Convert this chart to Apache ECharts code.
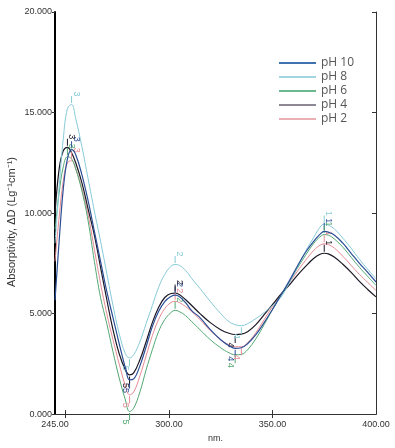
<!DOCTYPE html>
<html>
<head>
<meta charset="utf-8">
<script src="https://cdn.jsdelivr.net/npm/echarts@6/dist/echarts.min.js"></script>
<style>
html,body{margin:0;padding:0;background:#fff;}
#chart{width:395px;height:448px;}
</style>
</head>
<body>
<div id="chart"></div>
<script>
// wavelengths (nm)
const wavelengths = [245,247,249,251,253,255,258,261,264,267,270,273,276,279,281,283,286,289,292,295,298,301,303,305,308,311,315,320,325,329,332,335,338,342,346,350,354,358,362,366,370,373,375,377,380,384,388,392,396,400];

const pH10 = [5.66,8.6,11.2,12.7,13.15,12.9,11.9,10.6,9.1,7.6,6.1,4.8,3.5,2.3,1.7,1.75,2.4,3.35,4.35,5.1,5.6,5.85,5.92,5.85,5.55,5.15,4.8,4.2,3.7,3.4,3.27,3.3,3.5,3.95,4.55,5.2,5.9,6.6,7.35,8.05,8.6,8.95,9.09,9.05,8.9,8.5,8.0,7.5,7.05,6.57];
const pH8 = [8.5,11.3,13.7,15.2,15.4,14.7,13.3,11.7,10.1,8.6,7.0,5.4,4.0,3.0,2.8,2.95,3.6,4.5,5.4,6.3,6.95,7.35,7.44,7.4,7.15,6.75,6.25,5.6,5.0,4.6,4.45,4.4,4.5,4.75,5.05,5.4,5.8,6.5,7.3,8.1,8.8,9.3,9.45,9.4,9.2,8.75,8.25,7.7,7.2,6.73];
const pH6 = [9.2,11.0,12.3,12.8,12.7,12.2,11.1,9.6,7.6,5.8,4.5,3.1,1.8,0.7,0.13,0.3,1.1,2.2,3.2,4.1,4.7,5.05,5.16,5.1,4.9,4.6,4.2,3.7,3.3,3.05,2.95,2.97,3.2,3.75,4.45,5.2,5.9,6.55,7.25,7.9,8.5,8.82,8.93,8.9,8.7,8.3,7.8,7.3,6.85,6.4];
const pH4 = [9.95,12.2,13.1,13.27,13.0,12.5,11.5,10.2,8.9,7.3,5.7,4.2,3.0,2.2,1.95,2.05,2.7,3.6,4.55,5.3,5.8,6.0,6.02,5.95,5.7,5.4,5.0,4.55,4.2,4.02,3.96,3.98,4.1,4.45,4.95,5.45,5.95,6.4,6.9,7.35,7.75,7.95,8.0,7.97,7.8,7.45,7.05,6.6,6.2,5.83];
const pH2 = [7.6,9.8,11.6,12.5,12.6,12.2,11.2,9.9,8.2,6.5,5.0,3.7,2.5,1.4,0.96,1.1,1.9,2.9,3.9,4.7,5.25,5.55,5.61,5.55,5.35,5.1,4.7,4.15,3.7,3.45,3.35,3.35,3.55,4.05,4.7,5.35,5.95,6.5,7.1,7.65,8.15,8.4,8.47,8.43,8.25,7.85,7.4,6.95,6.55,6.15];

const seriesNames = ['pH 10','pH 8','pH 6','pH 4','pH 2'];
const seriesValues = [pH10, pH8, pH6, pH4, pH2];
const lineColors = ['#2c4f96','#86cbd8','#52a873','#1c1826','#e58a93'];
const legendColors = ['#3f72af','#a3d6e0','#6db88e','#8e8894','#eab0b6'];

const yTicks = [0,5,10,15,20];
const xLabelValues = [245,300,350,400];
const xTickValues = [250,300,350];

// extremum labels: peaks and troughs numbered as in the source figure
function extremaMarks(vals, color) {
  const out = [];
  const peaksOrder = [];
  const troughs = [];
  for (let i = 1; i < vals.length - 1; i++) {
    if (vals[i] >= vals[i-1] && vals[i] > vals[i+1]) peaksOrder.push(i);
    if (vals[i] <= vals[i-1] && vals[i] < vals[i+1]) troughs.push(i);
  }
  const pk = peaksOrder.slice().reverse();
  const tr = troughs.slice().reverse();
  pk.forEach((idx, k) => {
    out.push({
      coord: [wavelengths[idx], vals[idx]],
      symbol: 'rect', symbolSize: [1, 7], symbolOffset: [0, -5],
      itemStyle: {color: color},
      label: {show: true, formatter: String(k + 1), position: 'top', distance: 2, rotate: -90,
              fontSize: 9, color: color, fontFamily: 'Liberation Sans'}
    });
  });
  tr.forEach((idx, k) => {
    out.push({
      coord: [wavelengths[idx], vals[idx]],
      symbol: 'rect', symbolSize: [1, 7], symbolOffset: [0, 5],
      itemStyle: {color: color},
      label: {show: true, formatter: String(pk.length + k + 1), position: 'bottom', distance: 2, rotate: -90,
              fontSize: 9, color: color, fontFamily: 'Liberation Sans'}
    });
  });
  return out;
}

const chart = echarts.init(document.getElementById('chart'), null, {renderer: 'canvas'});

const series = seriesNames.map((name, i) => ({
  name: name,
  type: 'line',
  smooth: 0.4,
  showSymbol: false,
  symbol: 'none',
  data: wavelengths.map((w, j) => [w, seriesValues[i][j]]),
  lineStyle: {color: lineColors[i], width: (i === 0 || i === 3) ? 1.2 : 1},
  itemStyle: {color: legendColors[i]},
  emphasis: {disabled: true},
  markPoint: {
    silent: true,
    animation: false,
    data: extremaMarks(seriesValues[i], lineColors[i])
  },
  z: 5 - i
}));

chart.setOption({
  animation: false,
  backgroundColor: '#fff',
  grid: {left: 55, right: 19, top: 12, bottom: 32},
  legend: {
    orient: 'vertical',
    left: 274, top: 52,
    itemWidth: 37, itemHeight: 2, itemGap: 2,
    icon: 'rect',
    data: seriesNames.map((n, i) => ({name: n, itemStyle: {color: legendColors[i]}})),
    textStyle: {fontSize: 12, color: '#555', fontFamily: 'Open Sans', lineHeight: 12}
  },
  xAxis: [{
    type: 'value', min: 245, max: 400,
    name: 'nm.', nameLocation: 'middle', nameGap: 19,
    nameTextStyle: {fontSize: 9, color: '#333', fontFamily: 'Liberation Sans'},
    axisLine: {show: true, lineStyle: {color: '#333', width: 1}},
    axisTick: {show: true, inside: true, length: 4, customValues: xTickValues, lineStyle: {color: '#333'}},
    axisLabel: {customValues: xLabelValues, formatter: v => v.toFixed(2), fontSize: 9, color: '#333',
                fontFamily: 'Liberation Sans', margin: 6},
    splitLine: {show: false}
  }, {
    type: 'value', min: 245, max: 400, position: 'top',
    axisLine: {show: true, lineStyle: {color: '#333', width: 1}},
    axisTick: {show: true, inside: true, length: 4, customValues: xTickValues, lineStyle: {color: '#333'}},
    axisLabel: {show: false},
    splitLine: {show: false}
  }],
  yAxis: [{
    type: 'value', min: 0, max: 20, interval: 5,
    axisLine: {show: true, lineStyle: {color: '#000', width: 2}},
    axisTick: {show: true, length: 3, lineStyle: {color: '#333'}},
    axisLabel: {formatter: v => v.toFixed(3), fontSize: 9, color: '#333', fontFamily: 'Liberation Sans', margin: 3},
    splitLine: {show: false}
  }, {
    type: 'value', min: 0, max: 20, interval: 5, position: 'right',
    axisLine: {show: true, lineStyle: {color: '#333', width: 1}},
    axisTick: {show: true, inside: true, length: 4, lineStyle: {color: '#333'}},
    axisLabel: {show: false},
    splitLine: {show: false}
  }],
  graphic: [{
    type: 'text',
    x: 12, y: 222,
    rotation: Math.PI / 2,
    style: {
      text: 'Absorptivity, ΔD (Lg⁻¹cm⁻¹)',
      fontSize: 11, fill: '#333', fontFamily: 'Liberation Sans',
      align: 'center', verticalAlign: 'middle'
    }
  }],
  series: series
});
</script>
</body>
</html>
